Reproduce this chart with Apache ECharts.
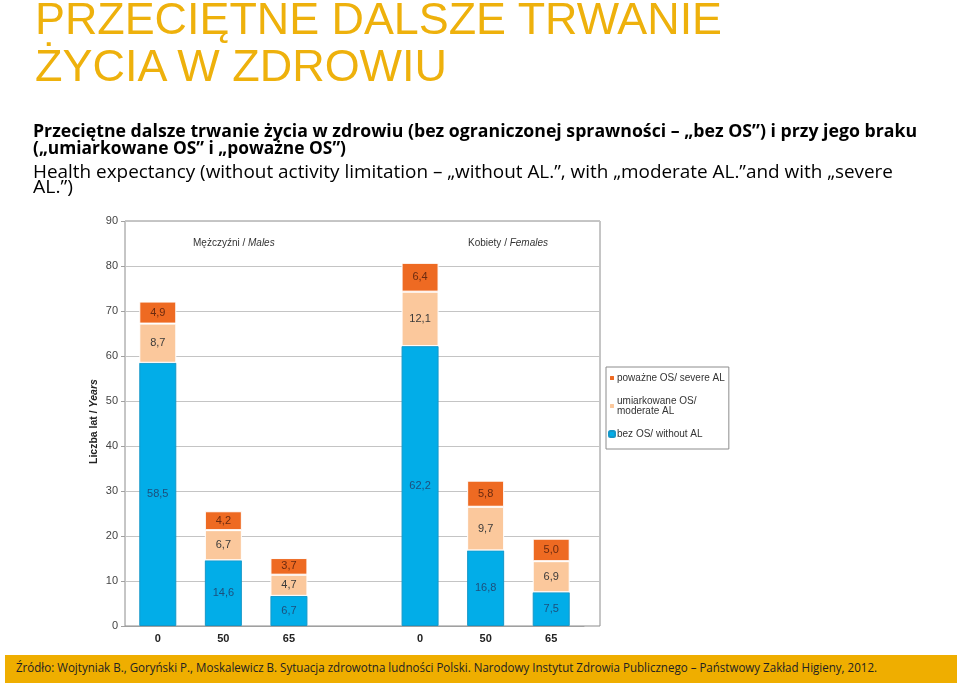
<!DOCTYPE html>
<html>
<head>
<meta charset="utf-8">
<script src="https://cdn.jsdelivr.net/npm/echarts@6/dist/echarts.min.js"></script>
<style>
  html, body { margin: 0; padding: 0; background: #fff; }
  #page { position: relative; width: 960px; height: 686px; overflow: hidden; }
  #chart { position: absolute; left: 0; top: 0; width: 960px; height: 686px; }
  .t { position: absolute; white-space: nowrap; margin: 0; transform-origin: 0 0; }
  .head { font-family: 'Liberation Sans', Arial, sans-serif; font-size: 45px; color: #EEB10C; line-height: 1; }
  .sub { font-family: 'Open Sans', 'Noto Sans', sans-serif; font-size: 17px; color: #000; line-height: 1; }
  .n { font-size: 18.5px; }
  .b { font-weight: bold; }
  #foot { position: absolute; left: 5px; top: 655px; width: 952px; height: 28px; background: #EFAE00; }
  #foot span { position: absolute; left: 11px; top: 6px; font-family: 'Open Sans', 'Noto Sans', sans-serif; font-size: 13.5px; color: #222; white-space: nowrap; line-height: 1; transform-origin: 0 0; }
</style>
</head>
<body>
<div id="page">
  <div id="chart"></div>
  <p class="t head" style="left:35px;top:-4px" data-w="687">PRZECIĘTNE DALSZE TRWANIE</p>
  <p class="t head" style="left:35px;top:43px" data-w="412">ŻYCIA W ZDROWIU</p>
  <p class="t sub b" style="left:33px;top:122px" data-w="884">Przeciętne dalsze trwanie życia w zdrowiu (bez ograniczonej sprawności – „bez OS”) i przy jego braku</p>
  <p class="t sub b" style="left:33px;top:139px" data-w="313">(„umiarkowane OS” i „poważne OS”)</p>
  <p class="t sub n" style="left:33px;top:162px" data-w="860">Health expectancy (without activity limitation – „without AL.”, with „moderate AL.”and with „severe</p>
  <p class="t sub n" style="left:33px;top:177px" data-w="40">AL.”)</p>
  <div id="foot"><span data-w="861">Źródło: Wojtyniak B., Goryński P., Moskalewicz B. Sytuacja zdrowotna ludności Polski. Narodowy Instytut Zdrowia Publicznego – Państwowy Zakład Higieny, 2012.</span></div>
</div>
<script>
// wiek (age) categories, the empty one splits males from females
const ages = ['0', '50', '65', '', '0', '50', '65'];
const yTicks = [0, 10, 20, 30, 40, 50, 60, 70, 80, 90];

const withoutAL = [58.5, 14.6, 6.7, null, 62.2, 16.8, 7.5];
const moderateAL = [8.7, 6.7, 4.7, null, 12.1, 9.7, 6.9];
const severeAL = [4.9, 4.2, 3.7, null, 6.4, 5.8, 5.0];

const names = {
  severe: 'poważne OS/ severe AL',
  moderate: 'umiarkowane OS/ moderate AL',
  without: 'bez OS/ without AL'
};

// squeeze text lines to the widths seen in the picture (Calibri-like narrow look)
document.querySelectorAll('[data-w]').forEach(el => {
  const target = +el.dataset.w;
  const w = el.getBoundingClientRect().width;
  if (w > 0) el.style.transform = 'scaleX(' + (target / w).toFixed(4) + ')';
});

const fmt = (p) => p.value == null ? '' : p.value.toFixed(1).replace('.', ',');

const chart = echarts.init(document.getElementById('chart'));

const barSeries = (name, data, color, border, labelColor) => ({
  name: name,
  type: 'bar',
  stack: 'all',
  xAxisIndex: 1,
  yAxisIndex: 1,
  barWidth: 37,
  data: data,
  itemStyle: { color: color, borderColor: border, borderWidth: 1 },
  label: {
    show: true,
    position: 'inside',
    formatter: fmt,
    color: labelColor,
    fontFamily: 'Liberation Sans, Arial',
    fontSize: 11
  }
});

const option = {
  animation: false,
  grid: [
    { left: 125, right: 360, top: 221, bottom: 60, show: true, borderColor: '#8c8c8c', borderWidth: 1 },
    { left: 125, right: 376, top: 221, bottom: 60 }
  ],
  xAxis: [
    { type: 'value', gridIndex: 0, show: false, min: 0, max: 1 },
    {
      type: 'category',
      gridIndex: 1,
      data: ages,
      axisLine: { lineStyle: { color: '#a0a0a0' } },
      axisTick: { length: 4, lineStyle: { color: '#a0a0a0' } },
      axisLabel: { fontFamily: 'Liberation Sans, Arial', fontSize: 11, fontWeight: 'bold', color: '#222', margin: 7 }
    }
  ],
  yAxis: [
    {
      type: 'value',
      gridIndex: 0,
      min: 0,
      max: 90,
      interval: 10,
      axisLine: { show: false },
      axisTick: { show: true, length: 4, lineStyle: { color: '#a0a0a0' } },
      axisLabel: {
        fontFamily: 'Liberation Sans, Arial',
        fontSize: 11,
        color: '#444',
        margin: 7,
        formatter: (v) => yTicks.includes(v) ? String(v) : ''
      },
      splitLine: { lineStyle: { color: '#c4c4c4' } }
    },
    { type: 'value', gridIndex: 1, min: 0, max: 90, show: false }
  ],
  legend: {
    orient: 'vertical',
    left: 606,
    top: 367,
    data: [names.severe, names.moderate, names.without],
    formatter: (n) => n === names.moderate ? 'umiarkowane OS/\nmoderate AL' : n,
    itemWidth: 6,
    itemHeight: 6,
    itemGap: 13,
    padding: [6, 4, 10, 2],
    borderColor: '#8c8c8c',
    borderWidth: 1,
    selectedMode: false,
    textStyle: { fontFamily: 'Liberation Sans, Arial', fontSize: 10, color: '#333', padding: [0, 0, 0, -3] }
  },
  graphic: [
    {
      type: 'text',
      left: 193,
      top: 238,
      style: {
        text: '{n|Mężczyźni / }{i|Males}',
        rich: {
          n: { fontFamily: 'Liberation Sans, Arial', fontSize: 10, fill: '#333' },
          i: { fontFamily: 'Liberation Sans, Arial', fontSize: 10, fill: '#333', fontStyle: 'italic' }
        }
      }
    },
    {
      type: 'text',
      left: 468,
      top: 238,
      style: {
        text: '{n|Kobiety / }{i|Females}',
        rich: {
          n: { fontFamily: 'Liberation Sans, Arial', fontSize: 10, fill: '#333' },
          i: { fontFamily: 'Liberation Sans, Arial', fontSize: 10, fill: '#333', fontStyle: 'italic' }
        }
      }
    },
    {
      type: 'text',
      x: 89,
      y: 464,
      rotation: Math.PI / 2,
      style: {
        text: '{n|Liczba lat / }{i|Years}',
        rich: {
          n: { fontFamily: 'Liberation Sans, Arial', fontSize: 10.5, fill: '#222', fontWeight: 'bold' },
          i: { fontFamily: 'Liberation Sans, Arial', fontSize: 10.5, fill: '#222', fontWeight: 'bold', fontStyle: 'italic' }
        }
      }
    }
  ],
  series: [
    barSeries(names.without, withoutAL, '#02ADE8', '#1497c8', '#1d4f7c'),
    barSeries(names.moderate, moderateAL, '#FBC89C', '#ffffff', '#3a3a3a'),
    barSeries(names.severe, severeAL, '#EE6A22', '#ffffff', '#6a2a10')
  ]
};

chart.setOption(option);
</script>
</body>
</html>
